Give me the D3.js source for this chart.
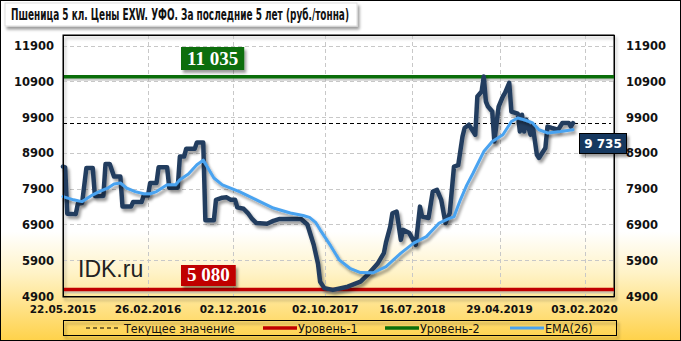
<!DOCTYPE html>
<html><head><meta charset="utf-8">
<script src="https://cdn.jsdelivr.net/npm/d3@7"></script>
<style>html,body{margin:0;padding:0;background:#fff;}svg{display:block;}</style>
</head><body>
<script>
// ---- data ----
const startDate = "2015-05-22";
const xTickLabels = ["22.05.2015","26.02.2016","02.12.2016","02.10.2017","16.07.2018","29.04.2019","03.02.2020"];
const yTicks = [4900,5900,6900,7900,8900,9900,10900,11900];
// price series: week offset from start, value (руб./тонна)
const priceWeeks = [0,1,2,6,7,9,11,14,15,19,20,22,24,27,28,32,33,37,38,40,41,44,45,49,50,54,55,57,58,62,63,66,67,71,72,75,77,79,81,82,85,87,89,91,96,99,102,112,115,118,120,121,123,127,134,140,144,148,151,152,154,155,157,159,160,163,166,168,169,172,174,176,178,180,182,184,186,188,189,191,192,194,195,197,198,199,200,202,203,205,207,208,210,211,214,215,216,217,218,220,221,223,224,227,228,230,233,235,238,239,240];
const priceValues = [8520,8500,7200,7190,7480,7500,8480,8480,7700,7700,8590,8590,8240,8240,7400,7400,7530,7530,7710,7710,8060,8060,8500,8500,7930,7930,8800,8800,9020,9020,9195,9195,7020,7020,7590,7650,7660,7590,7590,7380,7340,7220,7055,6940,6920,7000,7055,7055,6900,6330,5800,5300,5120,5070,5160,5300,5535,5800,6100,6400,6840,7215,7260,6470,6750,6660,6330,7400,7120,7080,7820,7870,7590,6940,7220,8520,8560,9360,9600,9690,9600,9410,10480,10620,11040,10340,10200,10060,9220,10200,10480,10580,10860,10060,10000,9500,9970,9500,9830,9410,9690,8850,8760,9040,9640,9600,9550,9740,9740,9640,9735];
// EMA(26)
const emaWeeks = [0,5,9,14,17,21,24,27,30,34,38,41,44,49,53,55,59,63,66,68,71,75,83,91,99,107,113,116,119,121,126,130,135,140,146,152,159,165,171,177,181,184,187,190,193,198,202,207,211,214,217,221,224,228,234,240];
const emaValues = [7680,7590,7540,7730,7820,7915,8030,8060,7915,7820,7760,7760,7820,8010,8010,8150,8310,8570,8700,8500,8200,8010,7820,7590,7360,7220,7150,7100,6950,6750,6300,5910,5675,5555,5550,5720,6100,6380,6560,6940,7050,7120,7590,8000,8340,8940,9220,9410,9780,9880,9830,9740,9550,9460,9500,9550];
const currentValue = 9735;
const level1 = 5080;
const level2 = 11035;
const titleText = "Пшеница  5 кл. Цены EXW.  УФО.  За последние  5 лет (руб./тонна)";
const legendItems = ["Текущее значение","Уровень-1","Уровень-2","EMA(26)"];

// ---- layout ----
const W = 681, H = 341;
const L = 63, R = 614, T = 35, B = 296;
const parse = d3.timeParse("%Y-%m-%d");
const parseTick = d3.timeParse("%d.%m.%Y");
const t0 = parse(startDate);
const t1 = d3.timeHour.offset(t0, Math.round(259.3 * 7 * 24));
const x = d3.scaleTime().domain([t0, t1]).range([L, R]);
const y = d3.scaleLinear().domain([4900, 12200]).range([B, T]);
const wk = w => d3.timeWeek.offset(t0, w);

const price = priceWeeks.map((w,i)=>({d:wk(w), v:priceValues[i]}));
const ema = emaWeeks.map((w,i)=>({d:wk(w), v:emaValues[i]}));

const svg = d3.select("body").append("svg").attr("width",W).attr("height",H);
const defs = svg.append("defs");
const g = defs.append("linearGradient").attr("id","bg").attr("x1",0).attr("y1",0).attr("x2",0).attr("y2",1);
g.append("stop").attr("offset","0").attr("stop-color","#ffffff");
g.append("stop").attr("offset","0.68").attr("stop-color","#ffffff");
g.append("stop").attr("offset","0.8").attr("stop-color","#fff3c8");
g.append("stop").attr("offset","1").attr("stop-color","#ffd24a");
const f = defs.append("filter").attr("id","sh").attr("x","-10%").attr("y","-10%").attr("width","130%").attr("height","140%");
f.append("feGaussianBlur").attr("in","SourceAlpha").attr("stdDeviation",1.5);
f.append("feOffset").attr("dx",2).attr("dy",2.5).attr("result","b");
f.append("feComponentTransfer").append("feFuncA").attr("type","linear").attr("slope",0.4);
const fm = f.append("feMerge"); fm.append("feMergeNode"); fm.append("feMergeNode").attr("in","SourceGraphic");

svg.append("rect").attr("x",0.5).attr("y",0.5).attr("width",W-1).attr("height",H-1)
  .attr("fill","url(#bg)").attr("stroke","#000");

// title
svg.append("rect").attr("x",5).attr("y",3).attr("width",352).attr("height",23)
  .attr("fill","#fff").attr("stroke","#ddd").attr("filter","url(#sh)");
svg.append("text").attr("x",11).attr("y",20).text(titleText)
  .attr("font-family","'Liberation Sans Narrow', 'DejaVu Sans Condensed', sans-serif")
  .attr("font-size",15.5).attr("font-weight","bold").attr("fill","#111")
  .attr("textLength",338).attr("lengthAdjust","spacingAndGlyphs");

// plot frame shadow
svg.append("rect").attr("x",L).attr("y",T).attr("width",R-L).attr("height",B-T+1)
  .attr("fill","none").attr("stroke","#000").attr("filter","url(#sh)");

// grid
const grid = svg.append("g");
grid.selectAll(".hg").data(yTicks.filter(v=>v>4900)).join("line")
  .attr("x1",L).attr("x2",R).attr("y1",d=>Math.round(y(d))+0.5).attr("y2",d=>Math.round(y(d))+0.5)
  .attr("stroke","#c8c8c8").attr("stroke-dasharray","4,3");
const xTickDates = xTickLabels.map(parseTick);
grid.selectAll(".vg").data(xTickDates.slice(1)).join("line")
  .attr("x1",d=>Math.round(x(d))+0.5).attr("x2",d=>Math.round(x(d))+0.5).attr("y1",T).attr("y2",B)
  .attr("stroke","#c8c8c8").attr("stroke-dasharray","4,3");

// level lines
function hline(v, color, w){
  svg.append("line").attr("x1",L).attr("x2",R).attr("y1",y(v)+2.5).attr("y2",y(v)+2.5)
    .attr("stroke","#b0b0b0").attr("stroke-width",3).attr("opacity",0.6);
  svg.append("line").attr("x1",L).attr("x2",R).attr("y1",y(v)).attr("y2",y(v))
    .attr("stroke",color).attr("stroke-width",w);
}
hline(level1,"#c00000",3.5);
hline(level2,"#0a6e0a",3.5);

// current value dashed line
svg.append("line").attr("x1",L).attr("x2",R-3).attr("y1",Math.round(y(currentValue))+0.5).attr("y2",Math.round(y(currentValue))+0.5)
  .attr("stroke","#000").attr("stroke-dasharray","4,3");

// series
const line = d3.line().x(d=>x(d.d)).y(d=>y(d.v));
svg.append("path").datum(price).attr("d",line).attr("fill","none")
  .attr("stroke","#243e5f").attr("stroke-width",4.5).attr("stroke-linejoin","round").attr("stroke-linecap","round")
  .attr("filter","url(#sh)");
svg.append("path").datum(ema).attr("d",line).attr("fill","none")
  .attr("stroke","#4aa3f0").attr("stroke-width",3).attr("stroke-linejoin","round").attr("stroke-linecap","round")
  .attr("filter","url(#sh)");

// frame
svg.append("rect").attr("x",L+0.5).attr("y",T+0.5).attr("width",R-L).attr("height",B-T)
  .attr("fill","none").attr("stroke","#000");

// axes text
const axFont = "'DejaVu Sans', Verdana, sans-serif";
svg.append("g").selectAll("text").data(yTicks).join("text")
  .attr("x",54).attr("y",d=>y(d)+4.5).attr("text-anchor","end").text(d=>d)
  .attr("font-family",axFont).attr("font-weight","bold").attr("font-size",11.5).attr("fill","#111");
svg.append("g").selectAll("text").data(yTicks).join("text")
  .attr("x",626).attr("y",d=>y(d)+4.5).attr("text-anchor","start").text(d=>d)
  .attr("font-family",axFont).attr("font-weight","bold").attr("font-size",11.5).attr("fill","#111");
svg.append("g").selectAll("text").data(xTickLabels).join("text")
  .attr("x",(d,i)=>x(xTickDates[i])).attr("y",313).attr("text-anchor","middle").text(d=>d)
  .attr("font-family",axFont).attr("font-weight","bold").attr("font-size",10.5).attr("fill","#111");

// IDK.ru
svg.append("text").attr("x",78).attr("y",277).text("IDK.ru")
  .attr("font-family","'Liberation Sans', Arial, sans-serif").attr("font-size",23).attr("fill","#222");

// level labels
function lvlLabel(v, color, yTop, h){
  const txt = d3.format(",")(v).replace(/,/g," ");
  const gg = svg.append("g");
  const t = gg.append("text").attr("x",0).attr("y",0).text(txt)
    .attr("font-family","'Liberation Serif', serif").attr("font-weight","bold").attr("font-size",19).attr("fill","#fff");
  const bw = t.node().getComputedTextLength() + 12;
  gg.insert("rect","text").attr("x",181).attr("y",yTop).attr("width",bw).attr("height",h)
    .attr("fill",color).attr("filter","url(#sh)");
  t.attr("x",181+6).attr("y",yTop+h-5);
}
lvlLabel(level2,"#0a6e0a",47,23);
lvlLabel(level1,"#c00000",265,21);

// current value label
const cv = svg.append("g");
cv.append("rect").attr("x",579.5).attr("y",133.5).attr("width",47).attr("height",20)
  .attr("fill","#17375e").attr("stroke","#000").attr("filter","url(#sh)");
cv.append("text").attr("x",603).attr("y",148).attr("text-anchor","middle")
  .text(d3.format(",")(currentValue).replace(/,/g," "))
  .attr("font-family",axFont).attr("font-weight","bold").attr("font-size",12).attr("fill","#fff");

// legend
const lg = svg.append("g");
lg.append("rect").attr("x",63.5).attr("y",320.5).attr("width",553).attr("height",15)
  .attr("fill","none").attr("stroke","#000").attr("filter","url(#sh)");
const legX = [86, 263, 385, 510];
const legStyle = [{c:"#000",w:1,da:"4,3"},{c:"#c00000",w:3.5},{c:"#0a6e0a",w:3.5},{c:"#4aa3f0",w:3}];
legendItems.forEach((t,i)=>{
  const s = legStyle[i];
  lg.append("line").attr("x1",legX[i]).attr("x2",legX[i]+(i===0?33:34)).attr("y1",328).attr("y2",328)
    .attr("stroke",s.c).attr("stroke-width",s.w).attr("stroke-dasharray",s.da||null);
  lg.append("text").attr("x",legX[i]+(i===0?38:35)).attr("y",332.5).text(t)
    .attr("font-family","'DejaVu Sans Condensed','DejaVu Sans', sans-serif").attr("font-size",12.5).attr("fill","#111");
});
</script>
</body></html>
